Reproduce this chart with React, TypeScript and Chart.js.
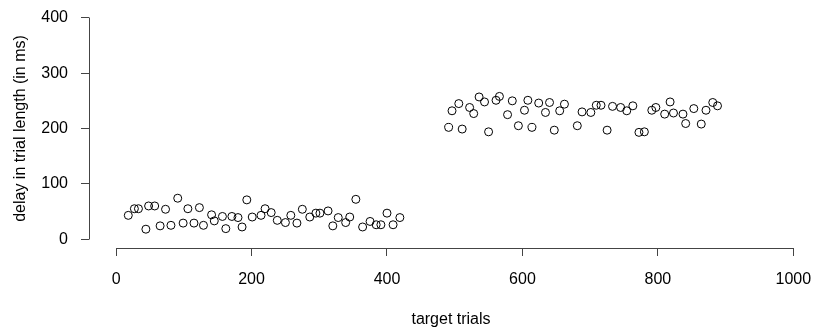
import React, { useEffect, useRef } from "react";
import { Chart, registerables } from "chart.js";

Chart.register(...registerables);

// target trial index (x) and delay in trial length in ms (y)
const trials: number[] = [
  18, 27, 33, 44, 48, 57, 65, 73, 81, 91, 99, 106, 115, 123, 129, 141, 145, 157, 162, 171,
  180, 186, 193, 201, 214, 220, 229, 238, 250, 258, 267, 275, 286, 295, 301, 313, 320, 328,
  339, 345, 354, 364, 375, 384, 391, 400, 409, 419,
  491, 496, 506, 511, 522, 528, 536, 544, 550, 561, 566, 578, 585, 594, 603, 608, 614, 624,
  634, 640, 647, 655, 662, 681, 688, 701, 709, 716, 725, 733, 745, 754, 763, 772, 780, 791,
  797, 810, 818, 823, 837, 841, 853, 864, 871, 881, 888,
];
const delays: number[] = [
  43, 55, 55, 18, 60, 60, 24, 54, 25, 74, 29, 55, 29, 57, 25, 44, 33, 41, 19, 41,
  39, 22, 71, 40, 43, 55, 48, 34, 30, 43, 29, 54, 40, 47, 47, 51, 24, 39,
  30, 40, 72, 22, 32, 26, 26, 47, 26, 39,
  202, 232, 245, 199, 238, 227, 257, 248, 194, 251, 258, 225, 250, 205, 233, 251, 202, 246,
  229, 247, 197, 232, 244, 205, 230, 229, 242, 242, 197, 240, 238, 232, 241, 193, 194, 233,
  238, 226, 248, 228, 226, 209, 236, 208, 233, 247, 241,
];
const xTicks: number[] = [0, 200, 400, 600, 800, 1000];
const yTicks: number[] = [0, 100, 200, 300, 400];

const xTitle = "target trials";
const yTitle = "delay in trial length (in ms)";

const FONT = "'Liberation Sans', Arial, Helvetica, sans-serif";
const AXIS_COLOR = "#444";

const alignPx = (p: number) => Math.round(p - 0.5) + 0.5;

const rAxisLines = {
  id: "rAxisLines",
  afterDraw(chart: any) {
    const { ctx, chartArea, scales } = chart;
    const xs = scales.x;
    const ys = scales.y;
    ctx.save();
    ctx.strokeStyle = AXIS_COLOR;
    ctx.lineWidth = 1;
    ctx.beginPath();
    const lx = alignPx(chartArea.left);
    ctx.moveTo(lx, alignPx(ys.getPixelForValue(yTicks[0])));
    ctx.lineTo(lx, alignPx(ys.getPixelForValue(yTicks[yTicks.length - 1])));
    const by = alignPx(chartArea.bottom);
    ctx.moveTo(alignPx(xs.getPixelForValue(xTicks[0])), by);
    ctx.lineTo(alignPx(xs.getPixelForValue(xTicks[xTicks.length - 1])), by);
    ctx.stroke();
    ctx.restore();
  },
};

export default function App() {
  const canvasRef = useRef<HTMLCanvasElement | null>(null);

  useEffect(() => {
    const canvas = canvasRef.current;
    if (!canvas) return;
    const points = trials.map((t, i) => ({ x: t, y: delays[i] }));
    const chart = new Chart(canvas, {
      type: "scatter",
      data: {
        datasets: [
          {
            data: points,
            showLine: false,
            pointStyle: "circle",
            pointRadius: 4,
            pointHoverRadius: 4,
            pointBorderWidth: 1,
            pointBorderColor: "#000",
            pointBackgroundColor: "rgba(0,0,0,0)",
          },
        ],
      },
      options: {
        animation: false,
        responsive: false,
        devicePixelRatio: 1,
        layout: { autoPadding: false, padding: { top: 9, right: 0, bottom: 0, left: 0 } },
        plugins: {
          legend: { display: false },
          tooltip: { enabled: false },
        },
        scales: {
          x: {
            type: "linear",
            position: "bottom",
            min: -40,
            max: 1029,
            afterBuildTicks: (s: any) => {
              s.ticks = xTicks.map((v) => ({ value: v }));
            },
            afterFit: (s: any) => {
              s.height = 81;
              s.paddingLeft = 0;
              s.paddingRight = 0;
            },
            border: { display: false },
            grid: {
              display: true,
              drawOnChartArea: false,
              drawTicks: true,
              tickLength: 8,
              color: AXIS_COLOR,
              lineWidth: 1,
            },
            ticks: {
              autoSkip: false,
              maxRotation: 0,
              padding: 14,
              color: "#000",
              font: { family: FONT, size: 16 },
              callback: (v: any) => String(v),
            },
            title: {
              display: true,
              text: xTitle,
              color: "#000",
              padding: 0,
              font: { family: FONT, size: 16, lineHeight: 1.2 },
            },
          },
          y: {
            type: "linear",
            position: "left",
            min: -16,
            max: 416,
            afterBuildTicks: (s: any) => {
              s.ticks = yTicks.map((v) => ({ value: v }));
            },
            afterFit: (s: any) => {
              s.width = 89;
              s.paddingTop = 0;
              s.paddingBottom = 0;
            },
            border: { display: false },
            grid: {
              display: true,
              drawOnChartArea: false,
              drawTicks: true,
              tickLength: 8,
              color: AXIS_COLOR,
              lineWidth: 1,
            },
            ticks: {
              autoSkip: false,
              padding: 13,
              color: "#000",
              font: { family: FONT, size: 16 },
              callback: (v: any) => String(v),
            },
            title: {
              display: true,
              text: yTitle,
              color: "#000",
              padding: 0,
              font: { family: FONT, size: 16, lineHeight: 2.6 },
            },
          },
        },
      },
      plugins: [rAxisLines],
    });
    return () => chart.destroy();
  }, []);

  return (
    <div style={{ position: "fixed", left: 0, top: 0, width: 813, height: 329, background: "#fff" }}>
      <canvas ref={canvasRef} width={813} height={329} style={{ width: 813, height: 329, display: "block" }} />
    </div>
  );
}
